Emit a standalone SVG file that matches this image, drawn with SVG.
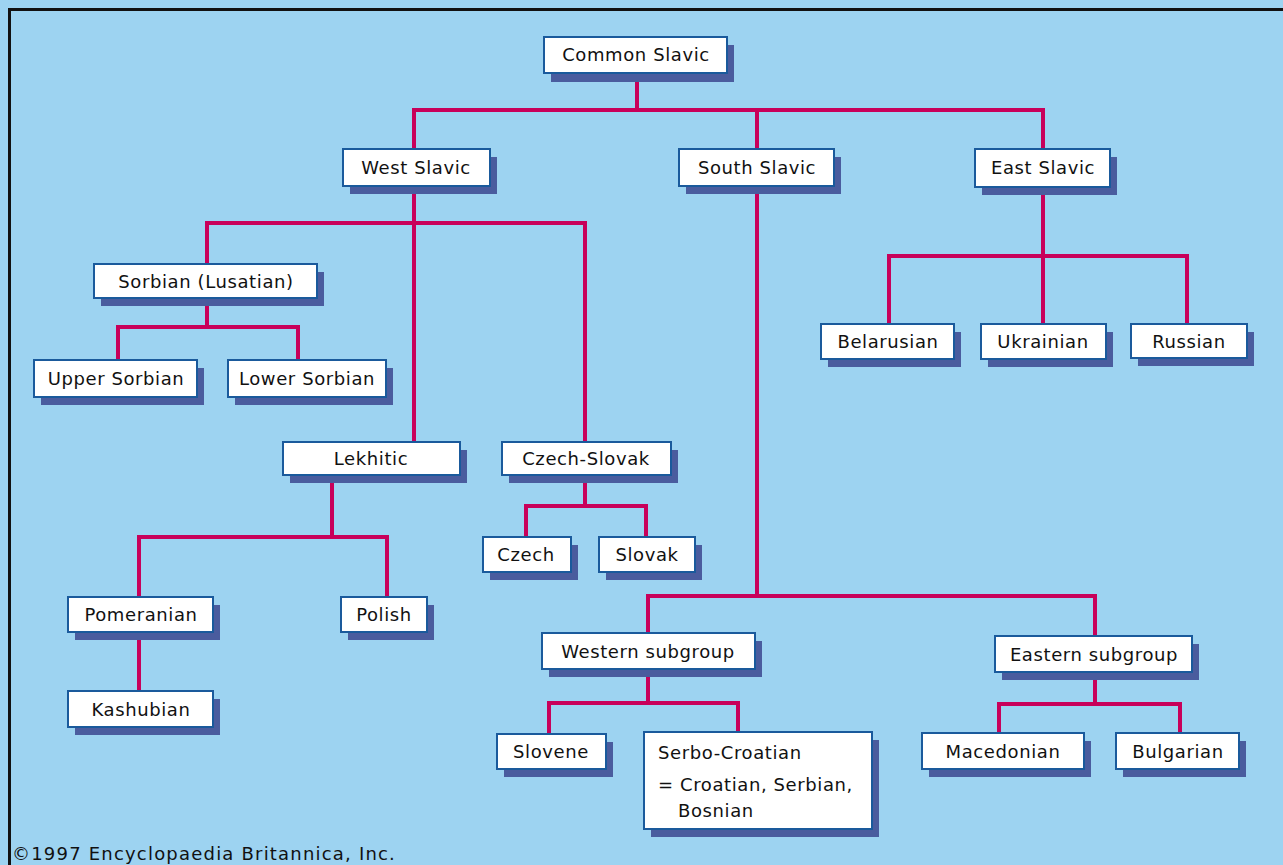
<svg xmlns="http://www.w3.org/2000/svg" width="1283" height="865" viewBox="0 0 1283 865">
<style>
.bg{fill:#9dd3f1}
.frame{fill:none;stroke:#111;stroke-width:3}
.c{fill:none;stroke:#c8005a;stroke-width:4;stroke-linejoin:miter;stroke-linecap:butt}
.sh{fill:#4a5c9e}
.bx{fill:#fff;stroke:#1a5a9c;stroke-width:2}
text{font-family:"DejaVu Sans","Liberation Sans",sans-serif;font-size:18px;fill:#111;letter-spacing:0.6px}
.m{text-anchor:middle}
.copy{letter-spacing:1.2px}
</style>
<rect class="bg" x="0" y="0" width="1283" height="865"/>
<path class="frame" d="M9.5 865 V9.5 H1283"/>
<g id="connectors">
<path class="c" d="M637 73 V110"/>
<path class="c" d="M414 149 V110 H1043 V149"/>
<path class="c" d="M757 110 V149"/>
<path class="c" d="M414 186 V442"/>
<path class="c" d="M207 264 V223 H585 V442"/>
<path class="c" d="M207 298 V327"/>
<path class="c" d="M118 360 V327 H298 V360"/>
<path class="c" d="M332 475 V537"/>
<path class="c" d="M139 597 V537 H387 V597"/>
<path class="c" d="M139 632 V691"/>
<path class="c" d="M585 475 V506"/>
<path class="c" d="M526 537 V506 H646 V537"/>
<path class="c" d="M757 186 V596"/>
<path class="c" d="M648 633 V596 H1095 V636"/>
<path class="c" d="M648 669 V703"/>
<path class="c" d="M549 734 V703 H738 V732"/>
<path class="c" d="M1095 672 V704"/>
<path class="c" d="M999 733 V704 H1180 V733"/>
<path class="c" d="M1043 187 V324"/>
<path class="c" d="M889 324 V256 H1187 V324"/>
</g>
<g id="common-slavic"><rect class="sh" x="551" y="45" width="183" height="37"/><rect class="bx" x="544" y="37" width="183" height="36"/><text class="m" x="636" y="61">Common Slavic</text></g>
<g id="west-slavic"><rect class="sh" x="350" y="157" width="147" height="37"/><rect class="bx" x="343" y="149" width="147" height="37"/><text class="m" x="416" y="174">West Slavic</text></g>
<g id="south-slavic"><rect class="sh" x="686" y="157" width="155" height="37"/><rect class="bx" x="679" y="149" width="155" height="37"/><text class="m" x="757" y="174">South Slavic</text></g>
<g id="east-slavic"><rect class="sh" x="982" y="157" width="135" height="38"/><rect class="bx" x="975" y="149" width="135" height="38"/><text class="m" x="1043" y="174">East Slavic</text></g>
<g id="sorbian"><rect class="sh" x="101" y="272" width="223" height="34"/><rect class="bx" x="94" y="264" width="223" height="34"/><text class="m" x="206" y="288">Sorbian (Lusatian)</text></g>
<g id="upper-sorbian"><rect class="sh" x="41" y="368" width="163" height="37"/><rect class="bx" x="34" y="360" width="163" height="37"/><text class="m" x="116" y="385">Upper Sorbian</text></g>
<g id="lower-sorbian"><rect class="sh" x="235" y="368" width="158" height="37"/><rect class="bx" x="228" y="360" width="158" height="37"/><text class="m" x="307" y="385">Lower Sorbian</text></g>
<g id="lekhitic"><rect class="sh" x="290" y="450" width="177" height="33"/><rect class="bx" x="283" y="442" width="177" height="33"/><text class="m" x="371" y="465">Lekhitic</text></g>
<g id="czech-slovak"><rect class="sh" x="509" y="450" width="169" height="33"/><rect class="bx" x="502" y="442" width="169" height="33"/><text class="m" x="586" y="465">Czech-Slovak</text></g>
<g id="czech"><rect class="sh" x="490" y="545" width="88" height="35"/><rect class="bx" x="483" y="537" width="88" height="35"/><text class="m" x="526" y="561">Czech</text></g>
<g id="slovak"><rect class="sh" x="606" y="545" width="96" height="35"/><rect class="bx" x="599" y="537" width="96" height="35"/><text class="m" x="647" y="561">Slovak</text></g>
<g id="pomeranian"><rect class="sh" x="75" y="605" width="145" height="35"/><rect class="bx" x="68" y="597" width="145" height="35"/><text class="m" x="141" y="621">Pomeranian</text></g>
<g id="polish"><rect class="sh" x="348" y="605" width="86" height="35"/><rect class="bx" x="341" y="597" width="86" height="35"/><text class="m" x="384" y="621">Polish</text></g>
<g id="kashubian"><rect class="sh" x="75" y="699" width="145" height="36"/><rect class="bx" x="68" y="691" width="145" height="36"/><text class="m" x="141" y="716">Kashubian</text></g>
<g id="western-subgroup"><rect class="sh" x="549" y="641" width="213" height="36"/><rect class="bx" x="542" y="633" width="213" height="36"/><text class="m" x="648" y="658">Western subgroup</text></g>
<g id="eastern-subgroup"><rect class="sh" x="1002" y="644" width="197" height="36"/><rect class="bx" x="995" y="636" width="197" height="36"/><text class="m" x="1094" y="661">Eastern subgroup</text></g>
<g id="slovene"><rect class="sh" x="504" y="742" width="109" height="35"/><rect class="bx" x="497" y="734" width="109" height="35"/><text class="m" x="551" y="758">Slovene</text></g>
<g id="serbo-croatian"><rect class="sh" x="651" y="740" width="228" height="97"/><rect class="bx" x="644" y="732" width="228" height="97"/><text x="658" y="759">Serbo-Croatian</text><text x="658" y="791">= Croatian, Serbian,</text><text x="678" y="817">Bosnian</text></g>
<g id="macedonian"><rect class="sh" x="929" y="741" width="162" height="36"/><rect class="bx" x="922" y="733" width="162" height="36"/><text class="m" x="1003" y="758">Macedonian</text></g>
<g id="bulgarian"><rect class="sh" x="1123" y="741" width="123" height="36"/><rect class="bx" x="1116" y="733" width="123" height="36"/><text class="m" x="1178" y="758">Bulgarian</text></g>
<g id="belarusian"><rect class="sh" x="828" y="332" width="133" height="35"/><rect class="bx" x="821" y="324" width="133" height="35"/><text class="m" x="888" y="348">Belarusian</text></g>
<g id="ukrainian"><rect class="sh" x="988" y="332" width="125" height="35"/><rect class="bx" x="981" y="324" width="125" height="35"/><text class="m" x="1043" y="348">Ukrainian</text></g>
<g id="russian"><rect class="sh" x="1138" y="332" width="116" height="34"/><rect class="bx" x="1131" y="324" width="116" height="34"/><text class="m" x="1189" y="348">Russian</text></g>
<text class="copy" x="12" y="860">©1997 Encyclopaedia Britannica, Inc.</text>
</svg>
